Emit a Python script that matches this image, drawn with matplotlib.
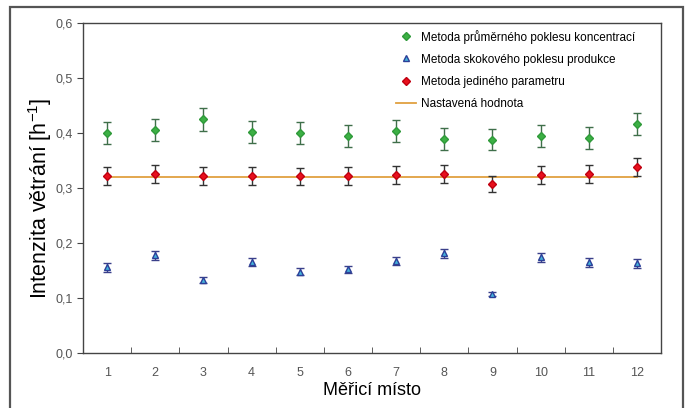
import matplotlib
matplotlib.use("Agg")
import matplotlib.pyplot as plt
from matplotlib.patches import Rectangle
from matplotlib.lines import Line2D
from matplotlib.ticker import FuncFormatter, MultipleLocator

plt.rcParams["font.family"] = ["Liberation Sans Narrow", "Liberation Sans", "DejaVu Sans"]

# measuring points
places = list(range(1, 13))
# average concentration decay method
prumer = [0.400, 0.406, 0.425, 0.401, 0.400, 0.394, 0.404, 0.389, 0.388, 0.394, 0.391, 0.417]
prumer_err = [0.020, 0.020, 0.021, 0.020, 0.020, 0.020, 0.020, 0.020, 0.019, 0.020, 0.020, 0.020]
# step production decay method
skok = [0.156, 0.178, 0.133, 0.166, 0.148, 0.152, 0.167, 0.181, 0.107, 0.174, 0.165, 0.163]
skok_err = [0.008, 0.008, 0.006, 0.007, 0.007, 0.006, 0.007, 0.009, 0.004, 0.008, 0.008, 0.008]
# single parameter method
jeden = [0.322, 0.326, 0.322, 0.322, 0.321, 0.322, 0.324, 0.326, 0.307, 0.324, 0.325, 0.338]
jeden_err = [0.017, 0.016, 0.016, 0.016, 0.016, 0.016, 0.016, 0.016, 0.015, 0.016, 0.016, 0.017]
# set value
nastaveno = 0.32

labels = ["Metoda průměrného poklesu koncentrací", "Metoda skokového poklesu produkce",
          "Metoda jediného parametru", "Nastavená hodnota"]

fig = plt.figure(figsize=(6.9, 4.08), dpi=100)
# outer frame like the exported excel chart
fig.patches.append(Rectangle((10 / 690, -0.05), 673 / 690, 1.05 - 7 / 408,
                             transform=fig.transFigure, fill=False,
                             edgecolor="#555555", linewidth=1.6))
ax = fig.add_axes([83 / 690, 55 / 408, 578 / 690, 330 / 408])

green = dict(marker="D", markersize=4.5, color="#3cb044", markeredgecolor="#2f9a3a")
blue = dict(marker="^", markersize=5, markerfacecolor="#44b4dc", markeredgecolor="#2c3f98")
red = dict(marker="D", markersize=4.5, color="#e8101c", markeredgecolor="#c00010")

ax.plot(places, [nastaveno] * len(places), color="#e0a040", linewidth=1.3, zorder=1)
ax.errorbar(places, prumer, yerr=prumer_err, linestyle="none", ecolor="#3f6f4a",
            elinewidth=1, capsize=3, zorder=3, **green)
ax.errorbar(places, skok, yerr=skok_err, linestyle="none", ecolor="#3a3f8a",
            elinewidth=1, capsize=3, zorder=3, **blue)
ax.errorbar(places, jeden, yerr=jeden_err, linestyle="none", ecolor="#333333",
            elinewidth=1, capsize=3, zorder=4, **red)

ax.set_xlim(0.5, 12.5)
ax.set_ylim(0, 0.6)
ax.yaxis.set_major_locator(MultipleLocator(0.1))
ax.yaxis.set_major_formatter(FuncFormatter(lambda v, p: f"{v:.1f}".replace(".", ",")))
ax.set_xticks(places)
ax.set_xticks([p + 0.5 for p in range(0, 13)], minor=True)
ax.tick_params(axis="x", which="major", length=0, pad=10)
ax.tick_params(axis="x", which="minor", length=4, direction="in", color="#444444")
ax.tick_params(axis="y", length=4, color="#444444")
ax.tick_params(labelsize=9, labelcolor="#555555")
for s in ax.spines.values():
    s.set_color("#444444")
    s.set_linewidth(1)

ax.set_ylabel("Intenzita větrání [h$^{\\mathregular{-1}}$]", fontsize=15.5)
ax.yaxis.set_label_coords(-0.05, 0.47)
ax.set_xlabel("Měřicí místo", fontsize=13, labelpad=2)

# legend only shows the markers, no error bars
handles = [Line2D([], [], linestyle="none", **green),
           Line2D([], [], linestyle="none", **blue),
           Line2D([], [], linestyle="none", **red),
           Line2D([], [], color="#e0a040", linewidth=1.3)]
ax.legend(handles, labels, loc="upper right", frameon=False, fontsize=8.5,
          handlelength=1.7, bbox_to_anchor=(0.973, 1.012), labelspacing=0.85,
          handletextpad=0.4)

fig.savefig("out.png", dpi=100)
